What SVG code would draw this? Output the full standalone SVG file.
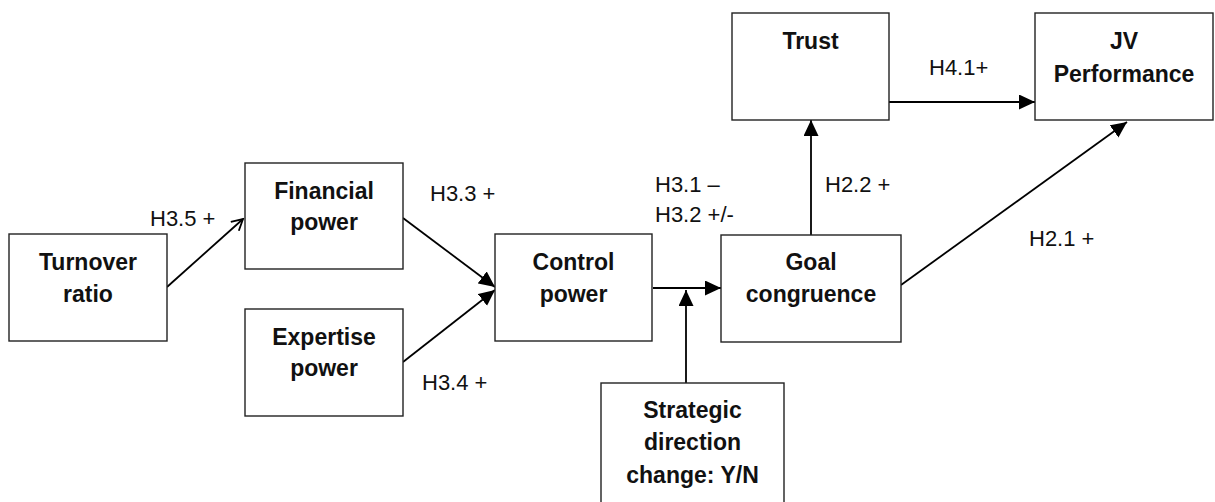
<svg xmlns="http://www.w3.org/2000/svg" width="1215" height="502" viewBox="0 0 1215 502">
<style>
.box{fill:#fff;stroke:#222;stroke-width:1.4}
.nt{font-family:"Liberation Sans",Arial,sans-serif;font-weight:bold;font-size:23px;fill:#111;text-anchor:middle}
.lb{font-family:"Liberation Sans",Arial,sans-serif;font-size:22px;fill:#111}
.c{fill:none;stroke:#000;stroke-width:1.8}
</style>
<defs>
<marker id="ah" markerUnits="userSpaceOnUse" markerWidth="17" markerHeight="16" refX="16" refY="7.5" orient="auto">
<path d="M0,0 L16,7.5 L0,15 z" fill="#000"/>
</marker>
<marker id="oa" markerUnits="userSpaceOnUse" markerWidth="14" markerHeight="16" refX="12" refY="7" orient="auto">
<path d="M1,1 L12,7 L1,13" fill="none" stroke="#000" stroke-width="1.8"/>
</marker>
</defs>
<rect width="1215" height="502" fill="#fff"/>
<g id="connectors">
<line class="c" x1="167" y1="287" x2="243" y2="219" marker-end="url(#oa)"/>
<line class="c" x1="403" y1="218" x2="495" y2="287" marker-end="url(#ah)"/>
<line class="c" x1="403" y1="362" x2="495" y2="290" marker-end="url(#ah)"/>
<line class="c" x1="653" y1="288" x2="721" y2="288" marker-end="url(#ah)"/>
<line class="c" x1="686" y1="383" x2="686" y2="290" marker-end="url(#ah)"/>
<line class="c" x1="811" y1="235" x2="811" y2="120" marker-end="url(#ah)"/>
<line class="c" x1="889" y1="102" x2="1035" y2="102" marker-end="url(#ah)"/>
<line class="c" x1="901" y1="285" x2="1127" y2="122" marker-end="url(#ah)"/>
</g>
<g id="labels">
<text class="lb" x="150" y="226">H3.5 +</text>
<text class="lb" x="430" y="201">H3.3 +</text>
<text class="lb" x="422" y="390">H3.4 +</text>
<text class="lb" x="655" y="192">H3.1 –</text>
<text class="lb" x="655" y="222">H3.2 +/-</text>
<text class="lb" x="825" y="192">H2.2 +</text>
<text class="lb" x="929" y="75">H4.1+</text>
<text class="lb" x="1029" y="246">H2.1 +</text>
</g>
<g id="turnover">
<rect class="box" x="9" y="234" width="158" height="107"/>
<text class="nt" x="88" y="270">Turnover</text>
<text class="nt" x="88" y="302">ratio</text>
</g>
<g id="financial">
<rect class="box" x="245" y="163" width="158" height="106"/>
<text class="nt" x="324" y="199">Financial</text>
<text class="nt" x="324" y="230">power</text>
</g>
<g id="expertise">
<rect class="box" x="245" y="309" width="158" height="107"/>
<text class="nt" x="324" y="345">Expertise</text>
<text class="nt" x="324" y="376">power</text>
</g>
<g id="control">
<rect class="box" x="495" y="234" width="157" height="107"/>
<text class="nt" x="573.5" y="270">Control</text>
<text class="nt" x="573.5" y="302">power</text>
</g>
<g id="goal">
<rect class="box" x="721" y="235" width="180" height="107"/>
<text class="nt" x="811" y="270">Goal</text>
<text class="nt" x="811" y="302">congruence</text>
</g>
<g id="trust">
<rect class="box" x="732" y="13" width="157" height="107"/>
<text class="nt" x="810.5" y="49">Trust</text>
</g>
<g id="jv">
<rect class="box" x="1035" y="13" width="178" height="107"/>
<text class="nt" x="1124" y="49">JV</text>
<text class="nt" x="1124" y="82">Performance</text>
</g>
<g id="strategic">
<rect class="box" x="601" y="383" width="183" height="140"/>
<text class="nt" x="692.5" y="418">Strategic</text>
<text class="nt" x="692.5" y="450">direction</text>
<text class="nt" x="692.5" y="483">change: Y/N</text>
</g>
</svg>
